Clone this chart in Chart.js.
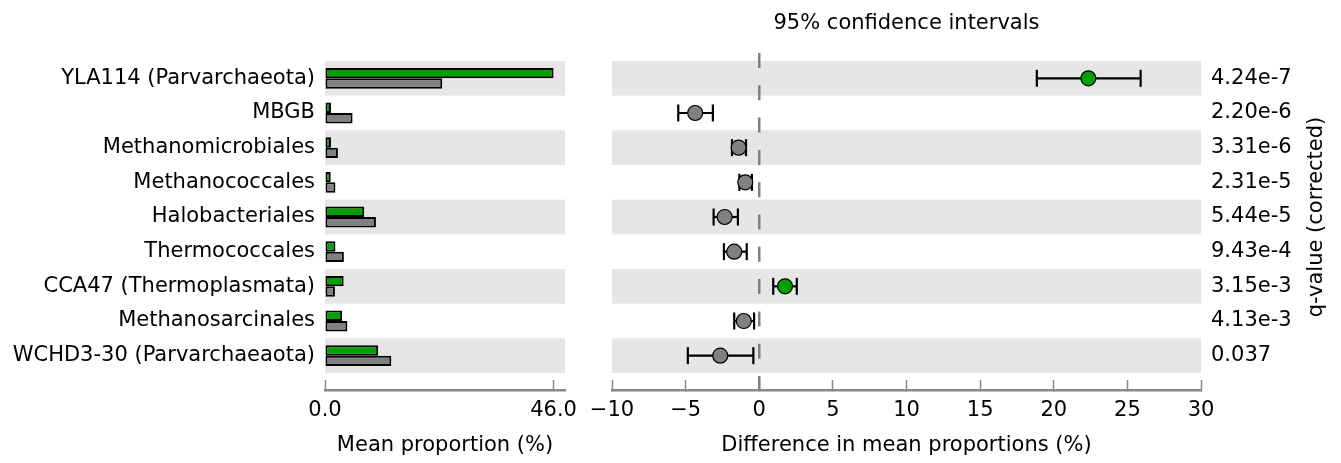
<!DOCTYPE html>
<html>
<head>
<meta charset="utf-8">
<title>Archaeal orders: mean proportions and differences</title>
<script src="https://cdn.jsdelivr.net/npm/chart.js@4.4.1/dist/chart.umd.min.js"></script>
<style>
  html, body { margin: 0; padding: 0; background: #ffffff; }
  #wrap { position: relative; width: 1341px; height: 463px; }
  #wrap canvas { position: absolute; left: 0; top: 0; }
</style>
</head>
<body>
<div id="wrap">
  <canvas id="means" width="1341" height="463"></canvas>
  <canvas id="diffs" width="1341" height="463"></canvas>
</div>
<script>
// Taxa, top to bottom
const categories = [
  'YLA114 (Parvarchaeota)',
  'MBGB',
  'Methanomicrobiales',
  'Methanococcales',
  'Halobacteriales',
  'Thermococcales',
  'CCA47 (Thermoplasmata)',
  'Methanosarcinales',
  'WCHD3-30 (Parvarchaeaota)'
];

// Mean proportions (%) of the two groups
const group1Means = [46.0, 1.2, 1.2, 1.15, 7.9, 2.1, 3.75, 3.45, 10.7];
const group2Means = [23.6, 5.55, 2.6, 2.1, 10.25, 3.8, 2.0, 4.5, 13.35];

// Difference in mean proportions (%) with 95% confidence intervals
const diffValues = [22.35, -4.35, -1.4, -0.95, -2.35, -1.7, 1.75, -1.05, -2.65];
const ciLower    = [18.85, -5.5, -1.85, -1.35, -3.1, -2.4, 0.95, -1.7, -4.85];
const ciUpper    = [25.9, -3.15, -0.9, -0.5, -1.45, -0.85, 2.55, -0.35, -0.4];

// Corrected q-values
const qValues = ['4.24e-7', '2.20e-6', '3.31e-6', '2.31e-5', '5.44e-5', '9.43e-4', '3.15e-3', '4.13e-3', '0.037'];

// Tick values
const meanTicks = [0, 46];
const diffTicks = [-10, -5, 0, 5, 10, 15, 20, 25, 30];

const GREEN = '#00a000';
const GREY = '#808080';
const BAND = '#e6e6e6';
const AXIS = '#8a8a8a';
const FONT = { family: "'DejaVu Sans'", size: 21 };

// Row index range shown on the vertical axis (rows sit at whole numbers)
const ROW_TOP = -0.73;
const ROW_BOTTOM = 8.99;

Chart.defaults.font.family = "'DejaVu Sans'";
Chart.defaults.font.size = 21;
Chart.defaults.color = '#000000';

const rowIndexTicks = (scale) => { scale.ticks = categories.map((_, i) => ({ value: i })); };

// Light bands behind every other row
const rowBands = {
  id: 'rowBands',
  beforeDraw(chart) {
    const { ctx, chartArea, scales: { y } } = chart;
    ctx.save();
    ctx.fillStyle = BAND;
    categories.forEach((_, i) => {
      if (i % 2) return;
      const top = y.getPixelForValue(i - 0.5);
      const bottom = y.getPixelForValue(i + 0.5);
      ctx.fillRect(chartArea.left, top, chartArea.right - chartArea.left, bottom - top);
    });
    ctx.restore();
  }
};

const bottomAxis = (min, max, ticks, fmt, title) => ({
  type: 'linear',
  position: 'bottom',
  min, max,
  offset: false,
  afterBuildTicks: (s) => { s.ticks = ticks.map(v => ({ value: v })); },
  afterFit: (s) => { s.height = 73; },
  ticks: { callback: fmt, font: FONT, color: '#000', padding: 18, maxRotation: 0, autoSkip: false },
  grid: { display: true, offset: false, drawOnChartArea: false, drawTicks: true, tickLength: -10, tickColor: AXIS, tickWidth: 1.5 },
  border: { display: true, color: AXIS, width: 2.5 },
  title: { display: true, text: title, font: FONT, color: '#000', padding: { top: 0, bottom: 5 } }
});

// Left panel: mean proportions
new Chart(document.getElementById('means'), {
  type: 'bar',
  data: {
    datasets: [
      {
        data: group1Means.map((v, i) => ({ x: v, y: i })),
        backgroundColor: GREEN, borderColor: '#000', borderWidth: 2, borderSkipped: false,
        categoryPercentage: 0.6, barPercentage: 1
      },
      {
        data: group2Means.map((v, i) => ({ x: v, y: i })),
        backgroundColor: GREY, borderColor: '#000', borderWidth: 2, borderSkipped: false,
        categoryPercentage: 0.6, barPercentage: 1
      }
    ]
  },
  options: {
    indexAxis: 'y',
    responsive: false,
    animation: false,
    events: [],
    layout: { padding: { left: 0, right: 776, top: 53, bottom: 0 } },
    plugins: { legend: { display: false }, tooltip: { enabled: false } },
    scales: {
      x: bottomAxis(0, 48.3, meanTicks, (v) => v.toFixed(1), 'Mean proportion (%)'),
      y: {
        type: 'linear', reverse: true, min: ROW_TOP, max: ROW_BOTTOM,
        offset: false,
        afterBuildTicks: rowIndexTicks,
        afterFit: (s) => { s.width = 325; },
        ticks: { callback: (v) => categories[v], autoSkip: false, padding: 10, font: FONT, color: '#000' },
        grid: { display: false, offset: false, drawTicks: false },
        border: { display: false }
      }
    }
  },
  plugins: [rowBands]
});

// Panel titles drawn alongside the difference axes
const diffTexts = {
  id: 'diffTexts',
  afterDraw(chart) {
    const { ctx, scales: { x, y, yq } } = chart;
    ctx.save();
    ctx.font = "21px 'DejaVu Sans'";
    ctx.fillStyle = '#000';
    ctx.textAlign = 'center';
    ctx.textBaseline = 'middle';
    ctx.fillText('95% confidence intervals', (x.left + x.right) / 2, 23.5);
    const midY = (y.getPixelForValue(-0.5) + y.getPixelForValue(categories.length - 0.5)) / 2;
    ctx.translate(yq.right - 24, midY);
    ctx.rotate(-Math.PI / 2);
    ctx.fillText('q-value (corrected)', 0, 0);
    ctx.restore();
  }
};

// Right panel: differences with confidence intervals
new Chart(document.getElementById('diffs'), {
  type: 'scatter',
  data: {
    datasets: [
      {
        data: diffValues.map((v, i) => ({ x: v, y: i })),
        pointRadius: 7.5,
        pointBackgroundColor: diffValues.map(v => (v > 0 ? GREEN : GREY)),
        pointBorderColor: '#000',
        pointBorderWidth: 1.2,
        showLine: false,
        order: 0
      },
      ...ciLower.map((lo, i) => ({
        data: [{ x: lo, y: i }, { x: ciUpper[i], y: i }],
        showLine: true,
        borderColor: '#000',
        borderWidth: 2.2,
        pointStyle: 'line',
        pointRotation: 90,
        pointRadius: 8.5,
        pointBorderColor: '#000',
        pointBorderWidth: 2.2,
        order: 1
      })),
      {
        data: [{ x: 0, y: ROW_TOP }, { x: 0, y: ROW_BOTTOM }],
        showLine: true,
        borderColor: GREY,
        borderWidth: 2.5,
        borderDash: [15, 17.3],
        pointRadius: 0,
        order: 2
      }
    ]
  },
  options: {
    responsive: false,
    animation: false,
    events: [],
    layout: { padding: { left: 612, right: 0, top: 53, bottom: 0 } },
    plugins: { legend: { display: false }, tooltip: { enabled: false } },
    scales: {
      x: bottomAxis(-10, 30, diffTicks, (v) => (v < 0 ? '\u2212' + Math.abs(v) : String(v)), 'Difference in mean proportions (%)'),
      y: {
        type: 'linear', display: false, reverse: true, min: ROW_TOP, max: ROW_BOTTOM
      },
      yq: {
        type: 'linear', position: 'right', reverse: true, min: ROW_TOP, max: ROW_BOTTOM,
        afterBuildTicks: rowIndexTicks,
        afterFit: (s) => { s.width = 140; },
        ticks: { callback: (v) => qValues[v], autoSkip: false, padding: 10, font: FONT, color: '#000' },
        grid: { display: false, drawTicks: false },
        border: { display: false }
      }
    }
  },
  plugins: [rowBands, diffTexts]
});
</script>
</body>
</html>
